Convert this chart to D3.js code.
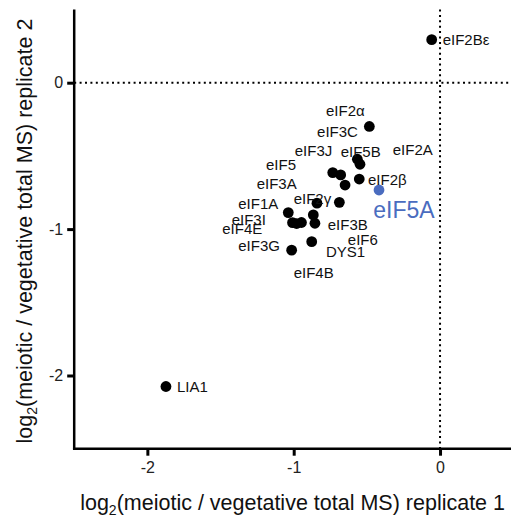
<!DOCTYPE html>
<html>
<head>
<meta charset="utf-8">
<script src="https://cdn.jsdelivr.net/npm/d3@7"></script>
<style>
  body { margin: 0; background: #fff; }
  svg { display: block; font-family: 'Liberation Sans', Arial, sans-serif; }
</style>
</head>
<body>
<div id="chart"></div>
<script>
//
// DATA
//
// protein names, and log2 ratios for replicate 1 (x) and replicate 2 (y)
const proteins = ['eIF2Bε', 'LIA1', 'eIF5A', 'eIF2α', 'eIF5B', 'eIF2A', 'eIF3J', 'eIF5', 'eIF3A', 'eIF2β',
    'eIF3C', 'eIF2γ', 'eIF1A', 'eIF3B', 'eIF3I', 'eIF4E', 'eIF6', 'DYS1', 'eIF3G', 'eIF4B']
const rep1 = [-0.057, -1.873, -0.417, -0.483, -0.565, -0.547, -0.733, -0.679, -0.649, -0.552,
    -0.688, -0.841, -1.037, -0.866, -1.008, -0.947, -0.855, -0.877, -1.014, -0.980]
const rep2 = [0.294, -2.075, -0.733, -0.299, -0.523, -0.557, -0.614, -0.630, -0.699, -0.658,
    -0.817, -0.823, -0.887, -0.903, -0.956, -0.955, -0.960, -1.086, -1.144, -0.962]
// highlighted protein
const highlight = 'eIF5A'
// label anchors (data units) for the annotations
const labelX = [0.018, -1.798, -0.456, -0.779, -0.679, -0.323, -0.993, -1.189, -1.253, -0.492,
    -0.840, -1.000, -1.379, -0.767, -1.424, -1.488, -0.630, -0.780, -1.379, -1.000]
const labelY = [0.294, -2.079, -0.870, -0.193, -0.471, -0.460, -0.464, -0.560, -0.692, -0.660,
    -0.337, -0.790, -0.824, -0.967, -0.938, -1.000, -1.074, -1.154, -1.115, -1.298]
// axes
const ticks = [-2, -1, 0]
const domain = [-2.5, 0.5]

//
// GLOBALS
//
const width = 511
const height = 523
const margin = { top: 9.5, right: -2.2, bottom: 74.3, left: 74.2 }
const blue = '#4a6cbf'

const svg = d3.select('#chart')
    .append('svg')
    .attr('width', width)
    .attr('height', height)

const x = d3.scaleLinear().domain(domain).range([margin.left, width - margin.right])
const y = d3.scaleLinear().domain(domain).range([height - margin.bottom, margin.top])

// dotted zero lines
svg.append('line')
    .attr('x1', x(0)).attr('x2', x(0))
    .attr('y1', y(domain[1])).attr('y2', y(domain[0]))
    .attr('stroke', '#000').attr('stroke-width', 2)
    .attr('stroke-dasharray', '2,3.4')
svg.append('line')
    .attr('x1', x(domain[0])).attr('x2', width)
    .attr('y1', y(0)).attr('y2', y(0))
    .attr('stroke', '#000').attr('stroke-width', 2)
    .attr('stroke-dasharray', '2,3.4')

// axes (plain hyphen for the minus sign, as in the original figure)
const fmt = d => String(d)
const xAxis = svg.append('g')
    .attr('transform', `translate(0,${y(domain[0])})`)
    .call(d3.axisBottom(x).tickValues(ticks).tickSize(7).tickPadding(6).tickFormat(fmt))
const yAxis = svg.append('g')
    .attr('transform', `translate(${x(domain[0])},0)`)
    .call(d3.axisLeft(y).tickValues(ticks).tickSize(7).tickPadding(4).tickFormat(fmt))

for (const ax of [xAxis, yAxis]) {
    ax.select('.domain').remove()
    ax.selectAll('.tick line').attr('stroke-width', 3)
    ax.selectAll('.tick text')
        .style('font-family', "'Liberation Sans', Arial, sans-serif")
        .style('font-size', '16px')
        .attr('fill', '#222')
}
// draw the axis lines across the whole plotting area
svg.append('line')
    .attr('x1', x(domain[0]) - 1.25).attr('x2', width)
    .attr('y1', y(domain[0])).attr('y2', y(domain[0]))
    .attr('stroke', '#000').attr('stroke-width', 2.5)
svg.append('line')
    .attr('x1', x(domain[0])).attr('x2', x(domain[0]))
    .attr('y1', y(domain[1])).attr('y2', y(domain[0]))
    .attr('stroke', '#000').attr('stroke-width', 2.5)

// points
svg.append('g')
    .selectAll('circle')
    .data(proteins)
    .join('circle')
    .attr('cx', (d, i) => x(rep1[i]))
    .attr('cy', (d, i) => y(rep2[i]))
    .attr('r', 5.4)
    .attr('fill', d => d === highlight ? blue : '#000')

// labels
svg.append('g')
    .selectAll('text')
    .data(proteins)
    .join('text')
    .attr('x', (d, i) => x(labelX[i]))
    .attr('y', (d, i) => y(labelY[i]))
    .attr('dy', '0.35em')
    .attr('fill', d => d === highlight ? blue : '#111')
    .style('font-size', d => d === highlight ? '23px' : '15px')
    .text(d => d)

// axis titles
const xTitle = svg.append('text')
    .attr('x', (x(domain[0]) + width) / 2)
    .attr('y', 510)
    .attr('text-anchor', 'middle')
    .style('font-size', '21.5px')
    .attr('fill', '#111')
xTitle.append('tspan').text('log')
xTitle.append('tspan').attr('dy', 5).style('font-size', '14px').text('2')
xTitle.append('tspan').attr('dy', -5).text('(meiotic / vegetative total MS) replicate 1')

const yTitle = svg.append('text')
    .attr('transform', `translate(32,${(y(domain[0]) + y(domain[1])) / 2 + 2}) rotate(-90)`)
    .attr('text-anchor', 'middle')
    .style('font-size', '21.5px')
    .attr('fill', '#111')
yTitle.append('tspan').text('log')
yTitle.append('tspan').attr('dy', 5).style('font-size', '14px').text('2')
yTitle.append('tspan').attr('dy', -5).text('(meiotic / vegetative total MS) replicate 2')
</script>
</body>
</html>
